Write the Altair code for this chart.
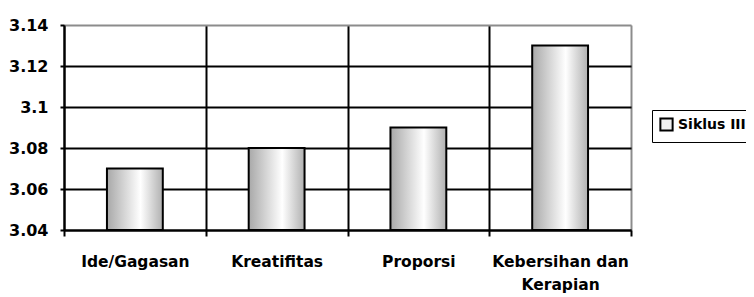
import altair as alt
import pandas as pd

categories = ["Ide/Gagasan", "Kreatifitas", "Proporsi", "Kebersihan dan\nKerapian"]
values = [3.07, 3.08, 3.09, 3.13]
series = ["Siklus III"] * 4
y_ticks = [3.04, 3.06, 3.08, 3.1, 3.12, 3.14]
y_min, y_max = 3.04, 3.14

df = pd.DataFrame({"category": categories, "value": values, "series": series})

FONT = "DejaVu Sans"

grad = alt.Gradient(
    gradient="linear",
    stops=[
        alt.GradientStop(color="#a8a8a8", offset=0),
        alt.GradientStop(color="#ffffff", offset=0.6),
        alt.GradientStop(color="#b0b0b0", offset=1),
    ],
    x1=0, x2=1, y1=0, y2=0,
)

x_enc = alt.X(
    "category:N",
    sort=categories,
    scale=alt.Scale(paddingInner=0, paddingOuter=0),
    axis=alt.Axis(
        title=None,
        labelAngle=0,
        labelExpr="split(datum.label, '\\n')",
        labelFont=FONT,
        labelFontSize=15.5,
        labelFontWeight="bold",
        labelColor="black",
        labelPadding=18,
        labelLineHeight=23,
        labelBaseline="top",
        tickBand="extent",
        tickSize=6,
        tickColor="black",
        tickWidth=2,
        domainColor="black",
        domainWidth=2,
        grid=True,
        gridColor={"condition": {"test": "datum.index >= 1", "value": "#8c8c8c"}, "value": "black"},
        gridWidth=2,
    ),
)

y_scale = alt.Scale(domain=[y_min, y_max], zero=False, nice=False)
y_enc = alt.Y(
    "value:Q",
    scale=y_scale,
    axis=alt.Axis(
        title=None,
        values=y_ticks,
        labelExpr="format(datum.value, '.2~f')",
        labelFont=FONT,
        labelFontSize=16,
        labelFontWeight="bold",
        labelColor="black",
        labelPadding=12,
        tickSize=4,
        tickColor="black",
        tickWidth=2,
        domainColor="black",
        domainWidth=2,
        grid=True,
        gridColor={"condition": {"test": "datum.value >= 3.139", "value": "#8c8c8c"}, "value": "black"},
        gridWidth=2,
    ),
)

bars = alt.Chart(df).mark_bar(
    fill=grad, stroke="black", strokeWidth=2, width=alt.RelativeBandSize(0.394)
).encode(x=x_enc, y=y_enc, y2=alt.datum(y_min))

legend_layer = alt.Chart(df).mark_square(opacity=0).encode(
    x=alt.X("category:N", sort=categories),
    y=alt.Y("value:Q", scale=y_scale),
    color=alt.Color(
        "series:N",
        scale=alt.Scale(range=["#f0f0f0"]),
        legend=alt.Legend(
            title=None,
            orient="none",
            legendX=588,
            legendY=85,
            symbolType="square",
            symbolSize=150,
            symbolStrokeColor="black",
            symbolStrokeWidth=2,
            symbolOpacity=1,
            labelFont=FONT,
            labelFontSize=14,
            labelFontWeight="bold",
            labelColor="black",
            labelOffset=4,
            strokeColor="black",
            padding=7,
        ),
    ),
)

chart = (
    alt.layer(bars, legend_layer)
    .properties(
        width=567,
        height=205,
        autosize=alt.AutoSizeParams(type="none"),
        padding={"left": 56, "top": 17, "right": 115, "bottom": 67},
    )
    .configure_view(stroke="#8c8c8c", strokeWidth=2)
    .configure_legend(strokeWidth=2)
    .configure(background="white")
)

chart.save("out.html", embed_options={"renderer": "svg", "actions": False})
